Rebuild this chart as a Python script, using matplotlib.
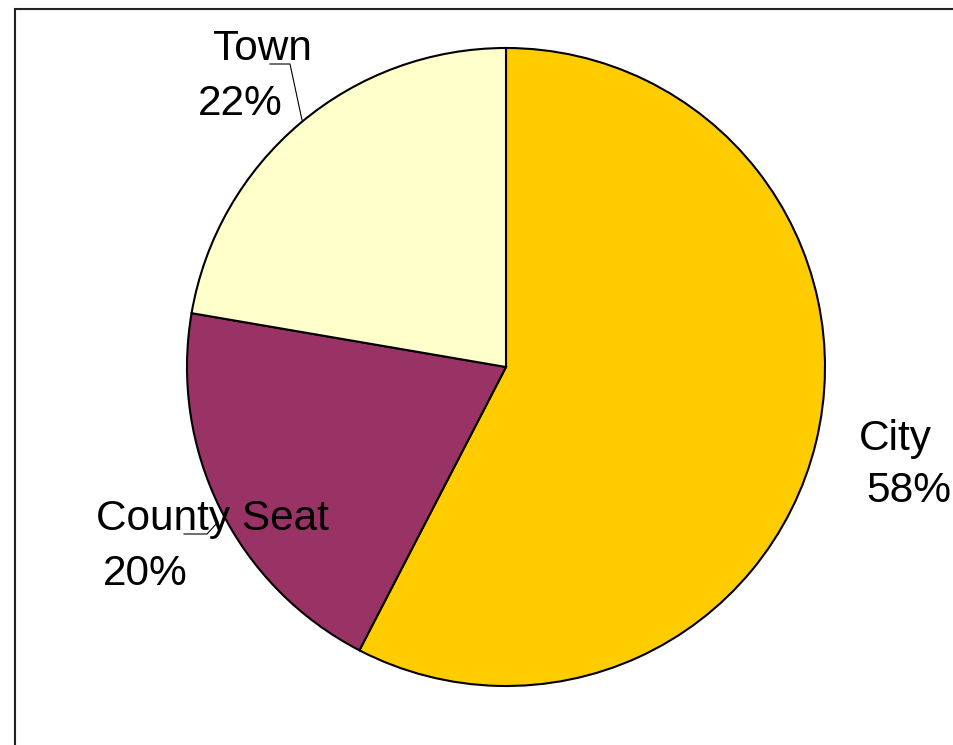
import matplotlib
matplotlib.use("Agg")
import matplotlib.pyplot as plt
from matplotlib.patches import Rectangle

categories = ["City", "County Seat", "Town"]
values = [57.6, 20.1, 22.3]
colors = ["#FFCC00", "#993366", "#FFFFCC"]

W, H = 954, 745
fig = plt.figure(figsize=(W / 100, H / 100), dpi=100)
ax = fig.add_axes([0, 0, 1, 1])
ax.set_xlim(0, W)
ax.set_ylim(0, H)
ax.set_axis_off()

# outer frame (extends past right and bottom edges)
ax.add_patch(Rectangle((15.5, -10), W + 20, H - 8.5 + 10, fill=False,
                       edgecolor="#222222", linewidth=1.5))

cx, cy, r = 506, H - 367, 319
ax.pie(values, colors=colors, startangle=90, counterclock=False,
       center=(cx, cy), radius=r, frame=True,
       wedgeprops=dict(edgecolor="black", linewidth=1.5))
ax.set_xlim(0, W)
ax.set_ylim(0, H)
ax.set_aspect("auto")
ax.set_axis_off()

font = dict(family=["Liberation Sans", "DejaVu Sans"], fontsize=30.5, color="black")

# label layout (name position, percent position) in pixel coords
layout = {
    "City": ((895, 450), (909, 502)),
    "County Seat": ((212, 530), (145, 585)),
    "Town": ((262, 60), (240, 115)),
}
for name, val in zip(categories, values):
    (nx, ny), (px, py) = layout[name]
    ax.text(nx, H - ny, name, ha="center", va="baseline", **font)
    ax.text(px, H - py, f"{round(val)}%", ha="center", va="baseline", **font)

# leader lines
ax.plot([270, 290, 302], [H - 64, H - 64, H - 120], color="black", linewidth=0.8)
ax.plot([184, 207, 218], [H - 534, H - 534, H - 522], color="black", linewidth=0.8)

fig.savefig("out.png", dpi=100)
